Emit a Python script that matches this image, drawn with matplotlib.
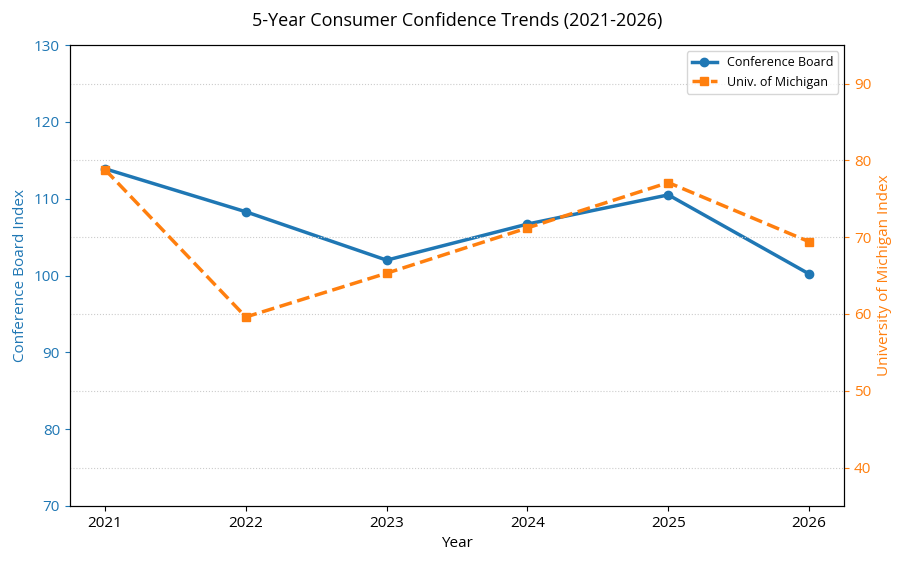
import matplotlib.pyplot as plt

plt.rcParams['font.family'] = ['Open Sans', 'DejaVu Sans']

years = [2021, 2022, 2023, 2024, 2025, 2026]
conference_board = [113.9, 108.3, 102.0, 106.7, 110.5, 100.2]
michigan = [78.8, 59.6, 65.3, 71.2, 77.1, 69.4]

blue = '#1f77b4'
orange = '#ff7f0e'

fig, ax1 = plt.subplots(figsize=(9.06, 5.64), dpi=100)
ax2 = ax1.twinx()

l1, = ax1.plot(years, conference_board, color=blue, marker='o', lw=2.5, ms=6, label='Conference Board')
l2, = ax2.plot(years, michigan, color=orange, marker='s', ls='--', lw=2.5, ms=6, label='Univ. of Michigan')

ax1.set_ylim(70, 130)
ax2.set_ylim(35, 95)
ax2.set_yticks([40, 50, 60, 70, 80, 90])
ax1.set_xticks(years)
ax1.set_xlabel('Year', fontsize=11)
ax1.set_ylabel('Conference Board Index', color=blue, fontsize=11)
ax2.set_ylabel('University of Michigan Index', color=orange, fontsize=11)
ax1.tick_params(axis='y', colors=blue, labelsize=11)
ax2.tick_params(axis='y', colors=orange, labelsize=11)
ax1.tick_params(axis='x', labelsize=11)
ax2.grid(axis='y', ls=':', color='#cccccc')

ax1.set_title('5-Year Consumer Confidence Trends (2021-2026)', fontsize=13, pad=14)
ax2.legend([l1, l2], [l1.get_label(), l2.get_label()], loc='upper right', fontsize=9)

fig.subplots_adjust(left=0.077, right=0.932, top=0.92, bottom=0.103)
fig.savefig('out.png')
